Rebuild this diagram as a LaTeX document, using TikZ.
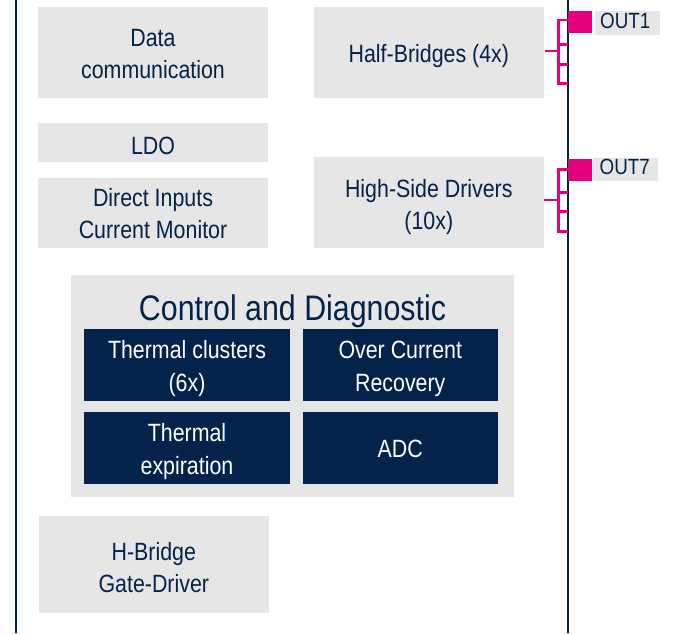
\documentclass[tikz,border=0pt]{standalone}
\usepackage{fontspec}
\setmainfont{Liberation Sans}[FakeStretch=0.855]
\definecolor{stnavy}{HTML}{03234B}
\definecolor{stgray}{HTML}{E6E6E6}
\definecolor{stpink}{HTML}{E6007E}
\begin{document}
\begin{tikzpicture}[x=1pt,y=-1pt,
  graybox/.style={fill=stgray, inner sep=0pt},
  darkbox/.style={fill=stnavy, inner sep=0pt, minimum width=206pt, minimum height=72pt},
  graytext/.style={text=stnavy, inner sep=0pt, align=center, text depth=0pt,
    font=\fontsize{25}{32}\selectfont},
  darktext/.style={text=white, inner sep=0pt, align=center, text depth=0pt,
    font=\fontsize{25}{33}\selectfont},
  frameline/.style={draw=stnavy, line width=2.2pt},
  pinkline/.style={draw=stpink, line width=2.7pt},
  pinpad/.style={fill=stpink, inner sep=0pt, minimum width=24pt, minimum height=22pt},
  pinlabel/.style={fill=stgray, inner sep=0pt, anchor=west,
    minimum width=65pt, minimum height=23.5pt},
  pintext/.style={text=stnavy, inner sep=0pt, anchor=west, text depth=0pt,
    font=\fontsize{22}{23}\selectfont}
]
\useasboundingbox (0,0) rectangle (674,633);

% frame lines
\coordinate (lt) at (16,0);
\coordinate (lb) at (16,633);
\coordinate (rt) at (568,0);
\coordinate (rb) at (568,633);
\draw[frameline] (lt) -- (lb);
\draw[frameline] (rt) -- (rb);

% left column
\node[graybox, minimum width=230pt, minimum height=90.7pt] (data) at (153,52.3) {};
\node[graytext] (datat) at ([yshift=-1.7pt]data.center) {Data\\communication};
\node[graybox, minimum width=230pt, minimum height=38.7pt] (ldo) at (153,142.3) {};
\node[graytext] (ldot) at ([yshift=-3pt]ldo.center) {LDO};
\node[graybox, minimum width=230pt, minimum height=69.7pt] (din) at (153,212.8) {};
\node[graytext] (dint) at ([yshift=-0.5pt]din.center) {Direct Inputs\\Current Monitor};
\node[graybox, minimum width=229.7pt, minimum height=96.7pt] (hbr) at (153.8,564.3) {};
\node[graytext] (hbrt) at ([yshift=-2.7pt]hbr.center) {H-Bridge\\Gate-Driver};

% right column
\node[graybox, minimum width=229.7pt, minimum height=90.7pt] (half) at (428.8,52.3) {};
\node[graytext] (halft) at ([yshift=-1pt]half.center) {Half-Bridges (4x)};
\node[graybox, minimum width=229.7pt, minimum height=90.7pt] (hsd) at (428.8,202.3) {};
\node[graytext] (hsdt) at ([yshift=-2.4pt]hsd.center) {High-Side Drivers\\(10x)};

% control and diagnostic
\node[graybox, minimum width=443pt, minimum height=221.7pt] (ctrl) at (292.5,385.8) {};
\node[text=stnavy, inner sep=0pt, text depth=0pt, font=\fontsize{35.5}{36}\selectfont] (ctitle) at (292.5,307.5) {Control and Diagnostic};
\node[darkbox] (tc) at (187,364.8) {};
\node[darktext] (tct) at ([yshift=-1.5pt]tc.center) {Thermal clusters\\(6x)};
\node[darkbox, minimum width=194.7pt] (ocr) at (400.3,364.8) {};
\node[darktext] (ocrt) at ([yshift=-1.2pt]ocr.center) {Over Current\\Recovery};
\node[darkbox] (te) at (187,448) {};
\node[darktext] (tet) at ([yshift=-0.8pt]te.center) {Thermal\\expiration};
\node[darkbox, minimum width=194.7pt] (adc) at (400.3,448) {};
\node[darktext] (adct) at ([yshift=-0.8pt]adc.center) {ADC};

% OUT1
\node[pinpad] (p1) at (580,22) {};
\node[pinlabel] (o1) at (595,22.8) {};
\node[pintext] (o1t) at (600,21.2) {OUT1};
\coordinate (b1t) at (558.3,20);
\coordinate (b1a) at (558.3,44.7);
\coordinate (b1m) at (558.3,51);
\coordinate (b1b) at (558.3,64.3);
\coordinate (b1c) at (558.3,83.3);
\draw[pinkline] (p1.west |- b1t) -- (b1t) -- (b1c) -- (b1c -| rt);
\draw[pinkline] (b1a) -- (b1a -| rt);
\draw[pinkline] (b1b) -- (b1b -| rt);
\draw[pinkline] (half.east |- b1m) ++(1.3,0) -- (b1m);

% OUT7
\node[pinpad] (p7) at (580,169.5) {};
\node[pinlabel] (o7) at (593,169.5) {};
\node[pintext] (o7t) at (599.5,166.8) {OUT7};
\coordinate (b7t) at (558.3,169.3);
\coordinate (b7a) at (558.3,192.3);
\coordinate (b7m) at (558.3,200);
\coordinate (b7b) at (558.3,211.7);
\coordinate (b7c) at (558.3,231.7);
\draw[pinkline] (p7.west |- b7t) -- (b7t) -- (b7c) -- (b7c -| rt);
\draw[pinkline] (b7a) -- (b7a -| rt);
\draw[pinkline] (b7b) -- (b7b -| rt);
\draw[pinkline] (hsd.east |- b7m) ++(0.3,0) -- (b7m);
\end{tikzpicture}
\end{document}
